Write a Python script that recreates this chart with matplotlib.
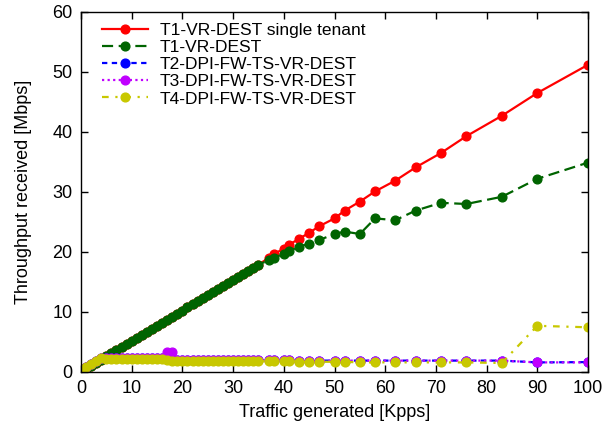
import matplotlib
matplotlib.use("Agg")
import matplotlib.pyplot as plt

plt.rcParams['font.family'] = ['Liberation Sans', 'DejaVu Sans']

# traffic generated [Kpps]
kpps = [0.5, 1, 2, 3, 4, 5, 6, 7, 8, 9, 10, 11, 12, 13, 14, 15, 16, 17, 18,
        19, 20, 21, 22, 23, 24, 25, 26, 27, 28, 29, 30, 31, 32, 33, 34, 35,
        37, 38, 40, 41, 43, 45, 47, 50, 52, 55, 58, 62, 66, 71, 76, 83, 90, 100]

# throughput received [Mbps]
t1_single = [0.3, 0.5, 1.0, 1.5, 2.0, 2.6, 3.1, 3.6, 4.1, 4.6, 5.1, 5.6, 6.1,
             6.7, 7.2, 7.7, 8.2, 8.7, 9.2, 9.7, 10.2, 10.8, 11.3, 11.8, 12.3,
             12.8, 13.3, 13.8, 14.3, 14.8, 15.4, 15.9, 16.4, 16.9, 17.4, 17.9,
             19.0, 19.7, 20.5, 21.2, 22.2, 23.2, 24.3, 25.6, 26.9, 28.4, 30.1,
             31.9, 34.1, 36.5, 39.3, 42.7, 46.5, 51.2]
t1 = [0.3, 0.5, 1.0, 1.5, 2.0, 2.6, 3.1, 3.6, 4.1, 4.6, 5.1, 5.6, 6.1,
      6.7, 7.2, 7.7, 8.2, 8.7, 9.2, 9.7, 10.2, 10.8, 11.3, 11.8, 12.3,
      12.8, 13.3, 13.8, 14.3, 14.8, 15.4, 15.9, 16.4, 16.9, 17.4, 17.9,
      18.6, 19.0, 19.7, 20.1, 20.9, 21.4, 22.0, 23.0, 23.4, 23.0, 25.6,
      25.3, 26.9, 28.2, 28.0, 29.2, 32.2, 34.9]
t2 = [0.5, 0.9, 1.4, 1.9, 2.3, 2.3, 2.3, 2.3, 2.3, 2.3, 2.3, 2.3, 2.3,
      2.3, 2.3, 2.3, 2.3, 2.3, 2.0, 2.0, 2.0, 2.0, 2.0, 2.0, 2.0,
      2.0, 2.0, 2.0, 2.0, 2.0, 2.0, 2.0, 2.0, 2.0, 2.0, 2.0,
      2.0, 2.0, 2.0, 2.0, 1.9, 1.9, 1.9, 1.9, 1.9, 1.9, 1.9,
      1.9, 1.9, 1.9, 1.9, 1.9, 1.6, 1.65]
t3 = [0.5, 0.9, 1.4, 1.9, 2.3, 2.3, 2.3, 2.3, 2.3, 2.3, 2.3, 2.3, 2.3,
      2.3, 2.3, 2.3, 2.4, 3.4, 3.4, 2.0, 2.0, 2.0, 2.0, 2.0, 2.0,
      2.0, 2.0, 2.0, 2.0, 2.0, 2.0, 2.0, 2.0, 2.0, 2.0, 2.0,
      2.0, 2.0, 2.0, 2.0, 1.9, 1.9, 1.9, 1.9, 1.9, 1.9, 1.9,
      1.9, 1.9, 1.9, 1.9, 1.9, 1.6, 1.6]
t4 = [0.5, 0.9, 1.4, 1.9, 2.3, 2.2, 2.2, 2.2, 2.2, 2.2, 2.2, 2.2, 2.2,
      2.2, 2.2, 2.2, 2.2, 2.0, 1.8, 1.8, 1.8, 1.8, 1.8, 1.8, 1.8,
      1.8, 1.8, 1.8, 1.8, 1.8, 1.8, 1.8, 1.8, 1.8, 1.8, 1.8,
      1.8, 1.8, 1.8, 1.8, 1.7, 1.7, 1.7, 1.7, 1.7, 1.6, 1.6,
      1.6, 1.6, 1.6, 1.6, 1.5, 7.7, 7.45]

labels = ["T1-VR-DEST single tenant", "T1-VR-DEST", "T2-DPI-FW-TS-VR-DEST",
          "T3-DPI-FW-TS-VR-DEST", "T4-DPI-FW-TS-VR-DEST"]

fig = plt.figure(figsize=(6.06, 4.30), dpi=100)
ax = fig.add_axes([81 / 606, 1 - 372 / 430, 507 / 606, 360 / 430])

ms = 6.3
lw = 1.6
ax.plot(kpps, t1_single, color='#ff0000', lw=lw, ls='-', marker='o', ms=ms,
        label=labels[0])
ax.plot(kpps, t1, color='#006400', lw=lw, ls=(0, (5, 2.5)), marker='o', ms=ms,
        label=labels[1])
ax.plot(kpps, t2, color='#0000ff', lw=lw, ls=(0, (2.4, 2)), marker='o', ms=ms,
        label=labels[2])
ax.plot(kpps, t3, color='#c000ff', lw=lw, ls=(0, (1, 1.5)), marker='o', ms=ms,
        label=labels[3])
ax.plot(kpps, t4, color='#c8c800', lw=lw, ls=(0, (3, 3, 1, 3)), marker='o',
        ms=ms, label=labels[4])

ax.set_xlim(0, 100)
ax.set_ylim(0, 60)
ax.set_xticks(range(0, 101, 10))
ax.set_yticks(range(0, 61, 10))
ax.tick_params(direction='in', length=5, width=1, top=True, right=True,
               labelsize=13, pad=6)
for s in ax.spines.values():
    s.set_linewidth(1)

ax.set_xlabel("Traffic generated [Kpps]", fontsize=13, labelpad=5)
ax.set_ylabel("Throughput received [Mbps]", fontsize=13, labelpad=15)

ax.legend(loc='upper left', bbox_to_anchor=(0.041, 0.971), frameon=False,
          fontsize=12.5, numpoints=1, handlelength=2.65, handletextpad=0.7,
          labelspacing=0.12, borderaxespad=0, borderpad=0)

fig.savefig("out.png", dpi=100)
